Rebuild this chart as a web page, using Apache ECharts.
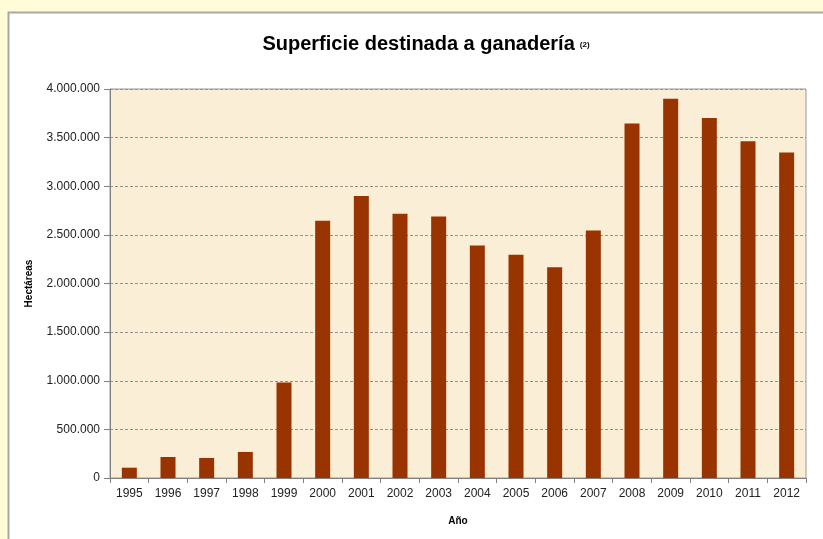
<!DOCTYPE html>
<html>
<head>
<meta charset="utf-8">
<script src="https://cdn.jsdelivr.net/npm/echarts@6/dist/echarts.min.js"></script>
<style>
html,body{margin:0;padding:0;background:#fffcd8;}
#c{width:823px;height:539px;}
</style>
</head>
<body>
<div id="c"></div>
<script>
var years = ['1995','1996','1997','1998','1999','2000','2001','2002','2003','2004','2005','2006','2007','2008','2009','2010','2011','2012'];
var hectareas = [106000,216000,206000,268000,983000,2645000,2900000,2716000,2690000,2390000,2295000,2168000,2545000,3645000,3900000,3703000,3463000,3347000];
var yTicks = [0,500000,1000000,1500000,2000000,2500000,3000000,3500000,4000000];

function fmt(v){
  return String(v).replace(/\B(?=(\d{3})+(?!\d))/g,'.');
}

var chart = echarts.init(document.getElementById('c'), null, {renderer:'canvas'});
chart.setOption({
  backgroundColor: '#fffcd8',
  animation: false,
  graphic: [{
    type: 'rect', z: -10, silent: true,
    shape: {x: 8.5, y: 12.5, width: 900, height: 600},
    style: {fill: '#ffffff', stroke: '#a8a8a8', lineWidth: 2}
  }],
  title: {
    text: '{m|Superficie destinada a ganadería} {s|(2)}',
    left: 421, top: 29, textAlign: 'center',
    textStyle: {
      rich: {
        m: {fontFamily: 'Liberation Sans, Arial, sans-serif', fontSize: 20, fontWeight: 'bold', color: '#000'},
        s: {fontFamily: 'Liberation Sans, Arial, sans-serif', fontSize: 8, fontWeight: 'bold', color: '#000', verticalAlign: 'bottom', padding: [0,0,5,0]}
      }
    }
  },
  grid: {left: 110, right: 17, top: 89, bottom: 61, show: true, backgroundColor: '#fbeed7', borderColor: '#9a9a9a', borderWidth: 1},
  xAxis: {
    type: 'category', data: years,
    name: 'Año', nameLocation: 'middle', nameGap: 38,
    nameTextStyle: {fontFamily: 'Liberation Sans, Arial, sans-serif', fontSize: 10, fontWeight: 'bold', color: '#000'},
    axisLine: {lineStyle: {color: '#808080', width: 1}},
    axisTick: {show: true, alignWithLabel: false, length: 5, lineStyle: {color: '#808080'}},
    axisLabel: {fontFamily: 'Liberation Sans, Arial, sans-serif', fontSize: 12, color: '#222', margin: 10}
  },
  yAxis: {
    type: 'value', min: 0, max: 4000000, interval: 500000,
    name: 'Hectáreas', nameLocation: 'middle', nameGap: 76, nameRotate: 90,
    nameTextStyle: {fontFamily: 'Liberation Sans, Arial, sans-serif', fontSize: 10, fontWeight: 'bold', color: '#000'},
    axisLine: {show: true, lineStyle: {color: '#808080', width: 1}},
    axisTick: {show: true, length: 6, lineStyle: {color: '#808080'}},
    axisLabel: {fontFamily: 'Liberation Sans, Arial, sans-serif', fontSize: 12, color: '#222', margin: 10,
      formatter: function(v){ return yTicks.indexOf(v) >= 0 ? fmt(v) : ''; }},
    splitLine: {show: true, lineStyle: {color: '#9a9288', type: [3,2], width: 1}}
  },
  series: [{
    type: 'bar', data: hectareas, barWidth: 15,
    itemStyle: {color: '#993300'}
  }]
});
</script>
</body>
</html>
